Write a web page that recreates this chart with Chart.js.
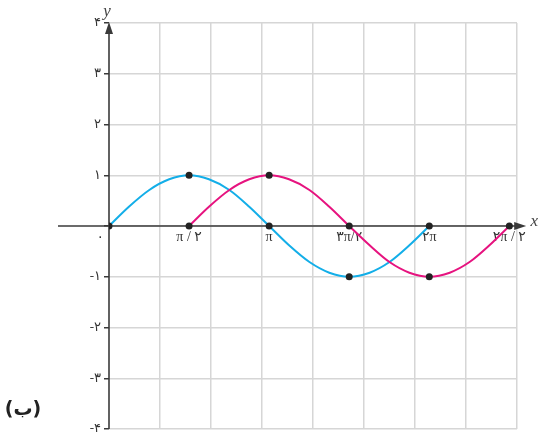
<!DOCTYPE html>
<html>
<head>
<meta charset="utf-8">
<script src="https://cdn.jsdelivr.net/npm/chart.js@4/dist/chart.umd.min.js"></script>
<style>
  html, body { margin: 0; padding: 0; background: #fff; }
  canvas { display: block; }
</style>
</head>
<body>
<canvas id="chart" width="539" height="433"></canvas>
<script>
// Values (x in radians)
const blueX = [0, 0.39, 0.79, 1.18, 1.57, 1.96, 2.36, 2.75, 3.14, 3.53, 3.93, 4.32, 4.71, 5.11, 5.50, 5.89, 6.28]
const blueY = [0, 0.38, 0.71, 0.92, 1, 0.92, 0.71, 0.38, 0, -0.38, -0.71, -0.92, -1, -0.92, -0.71, -0.38, 0]
const pinkX = [1.57, 1.96, 2.36, 2.75, 3.14, 3.53, 3.93, 4.32, 4.71, 5.11, 5.50, 5.89, 6.28, 6.68, 7.07, 7.46, 7.85]
const pinkY = [0, 0.38, 0.71, 0.92, 1, 0.92, 0.71, 0.38, 0, -0.38, -0.71, -0.92, -1, -0.92, -0.71, -0.38, 0]

const blueDotX = [0, 1.57, 3.14, 4.71, 6.28]
const blueDotY = [0, 1, 0, -1, 0]
const pinkDotX = [1.57, 3.14, 4.71, 6.28, 7.85]
const pinkDotY = [0, 1, 0, -1, 0]

// x tick labels (at multiples of pi/2) and y tick labels
const xTickValues = [0, 1.57, 3.14, 4.71, 6.28, 7.85]
const xTickLabels = ['۰     ', 'π / ۲', 'π', '۳π/۲', '۲π', '۲π / ۲']
const yTickLabels = { '4': '۴', '3': '۳', '2': '۲', '1': '۱', '0': '', '-1': '-۱', '-2': '-۲', '-3': '-۳', '-4': '-۴' }

const pts = (xs, ys) => xs.map((x, i) => ({ x: x, y: ys[i] }))

const AXIS = '#3a3a3a'
const GRID = '#d6d6d6'
const LABEL_FONT = '"Liberation Serif", "DejaVu Sans", serif'

const axesPlugin = {
  id: 'axes',
  beforeDatasetsDraw(chart) {
    const ctx = chart.ctx
    const xs = chart.scales.x
    const ys = chart.scales.y
    const x0 = xs.getPixelForValue(0)
    const y0 = ys.getPixelForValue(0)
    ctx.save()
    ctx.strokeStyle = AXIS
    ctx.fillStyle = AXIS
    ctx.lineWidth = 1.6
    // x axis
    ctx.beginPath()
    ctx.moveTo(xs.getPixelForValue(-1), y0)
    ctx.lineTo(xs.getPixelForValue(8.0), y0)
    ctx.stroke()
    const xt = xs.getPixelForValue(8.18)
    ctx.beginPath()
    ctx.moveTo(xt, y0)
    ctx.lineTo(xt - 12, y0 - 4)
    ctx.lineTo(xt - 12, y0 + 4)
    ctx.closePath()
    ctx.fill()
    // y axis
    ctx.beginPath()
    ctx.moveTo(x0, ys.getPixelForValue(-4))
    ctx.lineTo(x0, ys.getPixelForValue(3.85))
    ctx.stroke()
    const yt = ys.getPixelForValue(4.02)
    ctx.beginPath()
    ctx.moveTo(x0, yt)
    ctx.lineTo(x0 - 4, yt + 12)
    ctx.lineTo(x0 + 4, yt + 12)
    ctx.closePath()
    ctx.fill()
    // axis names
    ctx.fillStyle = '#444'
    ctx.font = 'italic 17px "Liberation Serif", "DejaVu Serif", serif'
    ctx.textAlign = 'center'
    ctx.textBaseline = 'middle'
    ctx.fillText('y', x0 - 2, yt - 10)
    ctx.fillText('x', xt + 8, y0 - 4)
    // caption
    ctx.font = 'bold 19px "DejaVu Sans", sans-serif'
    ctx.fillStyle = '#222'
    ctx.fillText('(ب)', 23, 410)
    ctx.restore()
  }
}

new Chart(document.getElementById('chart'), {
  type: 'scatter',
  data: {
    datasets: [
      {
        data: pts(blueDotX, blueDotY),
        showLine: false,
        pointRadius: 3.5,
        pointBackgroundColor: '#222',
        pointBorderWidth: 0,
        order: 0
      },
      {
        data: pts(pinkDotX, pinkDotY),
        showLine: false,
        pointRadius: 3.5,
        pointBackgroundColor: '#222',
        pointBorderWidth: 0,
        order: 0
      },
      {
        data: pts(pinkX, pinkY),
        showLine: true,
        borderColor: '#e6137f',
        borderWidth: 2,
        pointRadius: 0,
        cubicInterpolationMode: 'monotone',
        order: 1
      },
      {
        data: pts(blueX, blueY),
        showLine: true,
        borderColor: '#13aee8',
        borderWidth: 2,
        pointRadius: 0,
        cubicInterpolationMode: 'monotone',
        order: 2
      }
    ]
  },
  options: {
    responsive: false,
    devicePixelRatio: 1,
    animation: false,
    layout: { padding: { top: 23, right: 22, bottom: 2, left: 0 } },
    plugins: { legend: { display: false }, tooltip: { enabled: false } },
    scales: {
      x: {
        type: 'linear',
        min: 0,
        max: 8,
        position: 'bottom',
        ticks: { display: false, stepSize: 1 },
        grid: {
          drawTicks: false,
          lineWidth: 1.5,
          color: (c) => (c.tick && c.tick.value === 0) ? 'rgba(0,0,0,0)' : GRID
        },
        border: { display: false }
      },
      xl: {
        type: 'linear',
        axis: 'x',
        min: 0,
        max: 8,
        position: { y: 0 },
        afterBuildTicks: (scale) => { scale.ticks = xTickValues.map(v => ({ value: v })) },
        afterFit: (scale) => { scale.paddingLeft = 0; scale.paddingRight = 0 },
        ticks: {
          autoSkip: false,
          maxRotation: 0,
          padding: 3,
          color: '#333',
          font: { family: LABEL_FONT, size: 14 },
          callback: (v, i) => xTickLabels[i]
        },
        grid: { display: false, drawTicks: false },
        border: { display: false }
      },
      y: {
        type: 'linear',
        min: -4,
        max: 4,
        position: 'left',
        afterFit: (scale) => { scale.width = 109; scale.paddingTop = 0; scale.paddingBottom = 0 },
        ticks: {
          stepSize: 1,
          padding: 3,
          color: '#333',
          font: { family: LABEL_FONT, size: 13 },
          callback: (v) => yTickLabels[String(v)]
        },
        grid: {
          lineWidth: 1.5,
          color: GRID,
          tickColor: AXIS,
          tickLength: 5,
          tickWidth: 1.5
        },
        border: { display: false }
      }
    }
  },
  plugins: [axesPlugin]
})
</script>
</body>
</html>
